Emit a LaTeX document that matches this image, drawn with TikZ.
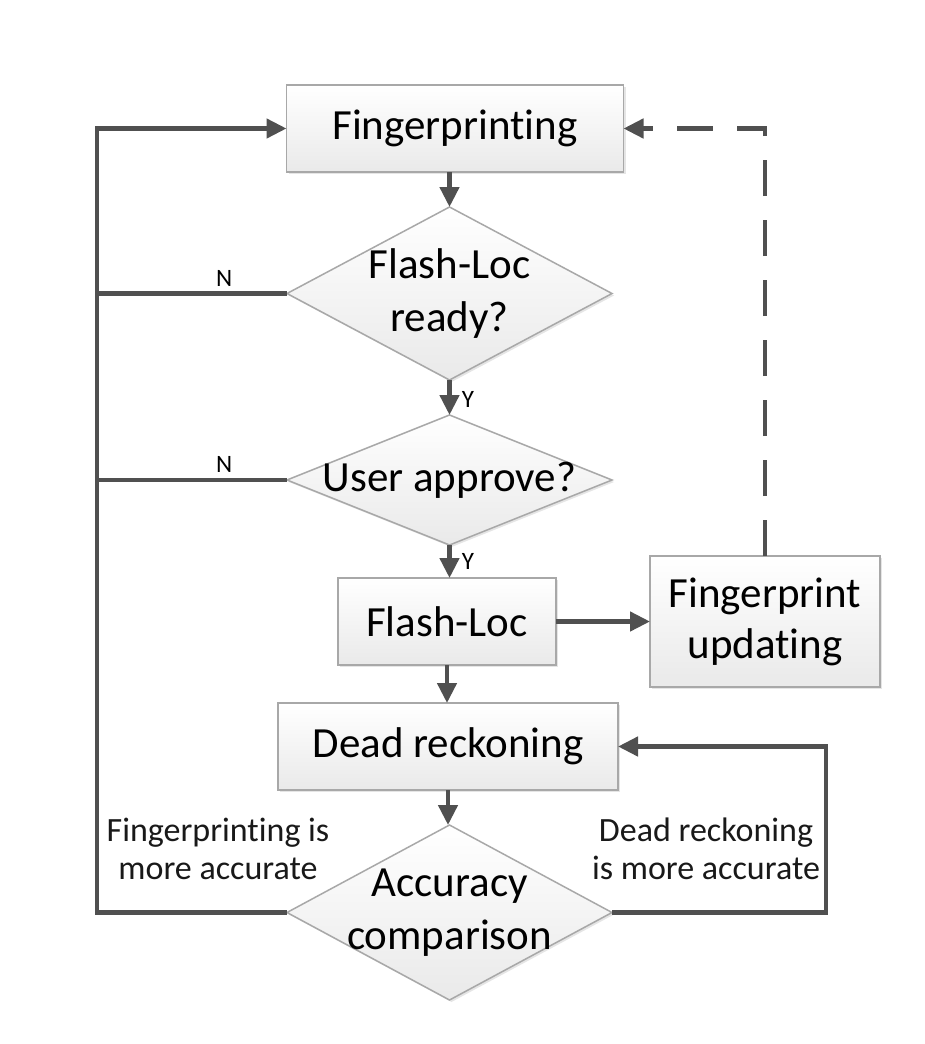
\documentclass[tikz,border=0pt]{standalone}
\usepackage{fontspec}
\setmainfont{Carlito}[Ligatures={NoCommon}]
\usetikzlibrary{arrows.meta,shapes.geometric,shadows}
\definecolor{lineg}{HTML}{505050}
\definecolor{borderg}{HTML}{A8A8A8}
\begin{document}
\begin{tikzpicture}[x=1pt,y=-1pt,
  box/.style={draw=borderg, line width=1.5pt, rectangle, top color=white, bottom color=gray!17,
    drop shadow={shadow xshift=2pt, shadow yshift=-2pt, opacity=0.2},
    inner sep=0pt, outer sep=0pt, align=center, font=\fontsize{43}{51}\selectfont},
  dia/.style={draw=borderg, line width=1.5pt, diamond, top color=white, bottom color=gray!17,
    drop shadow={shadow xshift=2pt, shadow yshift=-2pt, opacity=0.2},
    inner sep=0pt, outer sep=0pt},
  dlabel/.style={align=center, font=\fontsize{43}{53}\selectfont, inner sep=0pt},
  conn/.style={draw=lineg, line width=4.5pt},
  arr/.style={conn, -{Triangle[length=20pt,width=19pt]}},
  small/.style={font=\fontsize{34}{38}\selectfont, align=center, text=black!90},
  yn/.style={font=\fontsize{25}{28}\selectfont, inner sep=2pt},
]
\fill[white] (0,0) rectangle (924,1044);
\useasboundingbox (0,0) rectangle (924,1044);

\node[box, minimum width=337pt, minimum height=87pt] (fp) at (455,128.5) {Fingerprinting};
\node[dia, minimum width=325pt, minimum height=173pt,
  label={[dlabel]center:Flash-Loc\\ready?}] (d1) at (449.5,293.5) {};
\node[dia, minimum width=325pt, minimum height=130pt,
  label={[dlabel]center:User approve?}] (d2) at (449.5,480) {};
\node[box, minimum width=218pt, minimum height=87pt] (fl) at (447,621.5) {Flash-Loc};
\node[box, minimum width=230pt, minimum height=131pt] (fu) at (765,621.5) {Fingerprint\\updating};
\node[box, minimum width=340pt, minimum height=87pt] (dr) at (448,746.5) {Dead reckoning};
\node[dia, minimum width=325pt, minimum height=175pt,
  label={[dlabel]center:Accuracy\\comparison}] (d3) at (449.5,912.5) {};

\coordinate (L) at (97,0);
\coordinate (R) at (826,0);

\draw[arr] (d1.north |- fp.south) -- (d1.north);
\draw[arr] (d1.south) -- node[yn, right, pos=0.55, xshift=8pt] {Y} (d2.north);
\draw[arr] (d2.south) -- node[yn, right, pos=0.5, xshift=8pt] {Y} (d2.south |- fl.north);
\draw[arr] (fl.south) -- (fl.south |- dr.north);
\draw[arr] (dr.south) -- (dr.south |- d3.north);
\draw[arr] (fl.east) -- (fu.west);

\draw[arr, dash pattern=on 36pt off 24pt] (fu.north) -- (fu.north |- fp.east) -- (fp.east);

\draw[arr, line join=miter] (d3.west) -- (d3.west -| L) -- (L |- fp.west) -- (fp.west);
\draw[conn] (d1.west) -- node[yn, above, pos=0.33, yshift=3pt] {N} (d1.west -| L);
\draw[conn] (d2.west) -- node[yn, above, pos=0.33, yshift=3pt] {N} (d2.west -| L);

\draw[arr, line join=miter] (d3.east) -- (d3.east -| R) -- (R |- dr.east) -- (dr.east);

\node[small] (lblfp) at (218,849) {Fingerprinting is\\more accurate};
\node[small] (lbldr) at (706,849) {Dead reckoning\\is more accurate};
\end{tikzpicture}
\end{document}
